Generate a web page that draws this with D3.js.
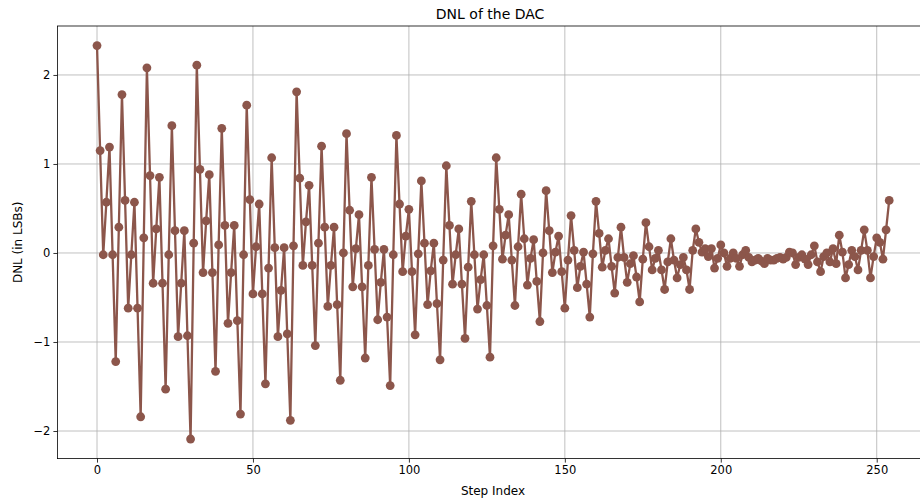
<!DOCTYPE html>
<html>
<head>
<meta charset="utf-8">
<script src="https://cdnjs.cloudflare.com/ajax/libs/d3/7.8.5/d3.min.js"></script>
<style>
body{margin:0;background:#fff;}
svg text{font-family:"DejaVu Sans",sans-serif;fill:#000;}
</style>
</head>
<body>
<svg width="920" height="503"></svg>
<script>
// DNL value for each step index 0..254
var dnl=[
2.33,1.15,-0.02,0.57,1.19,-0.02,-1.22,0.29,1.78,0.59,
-0.62,-0.02,0.57,-0.62,-1.84,0.17,2.08,0.87,-0.34,0.27,
0.85,-0.34,-1.53,-0.02,1.43,0.25,-0.94,-0.34,0.25,-0.93,
-2.09,0.11,2.11,0.94,-0.22,0.36,0.88,-0.22,-1.33,0.09,
1.40,0.31,-0.79,-0.22,0.31,-0.76,-1.81,-0.02,1.66,0.60,
-0.46,0.07,0.55,-0.46,-1.47,-0.17,1.07,0.06,-0.94,-0.42,
0.06,-0.91,-1.88,0.08,1.81,0.84,-0.14,0.35,0.76,-0.14,
-1.04,0.11,1.20,0.29,-0.60,-0.14,0.29,-0.58,-1.43,0.00,
1.34,0.48,-0.38,0.05,0.43,-0.38,-1.18,-0.14,0.85,0.04,
-0.75,-0.33,0.04,-0.72,-1.49,-0.02,1.32,0.55,-0.21,0.19,
0.49,-0.21,-0.92,-0.01,0.81,0.11,-0.58,-0.20,0.11,-0.57,
-1.20,-0.08,0.98,0.31,-0.35,-0.02,0.27,-0.35,-0.96,-0.16,
0.58,-0.02,-0.63,-0.30,-0.02,-0.59,-1.17,0.08,1.07,0.49,
-0.07,0.20,0.43,-0.08,-0.59,0.07,0.66,0.16,-0.36,-0.06,
0.15,-0.32,-0.77,0.00,0.70,0.25,-0.22,0.01,0.19,-0.21,
-0.62,-0.08,0.42,0.03,-0.39,-0.15,0.01,-0.35,-0.72,-0.01,
0.58,0.22,-0.16,0.03,0.16,-0.15,-0.45,-0.05,0.29,-0.05,
-0.33,-0.12,-0.03,-0.27,-0.55,-0.07,0.34,0.07,-0.19,-0.06,
0.03,-0.19,-0.41,-0.10,0.16,-0.08,-0.28,-0.13,-0.05,-0.19,
-0.41,0.03,0.27,0.12,0.01,0.05,-0.04,0.05,-0.17,-0.06,
0.09,0.00,-0.15,-0.06,0.00,-0.06,-0.15,-0.02,0.03,-0.05,
-0.10,-0.08,-0.06,-0.09,-0.12,-0.06,-0.08,-0.08,-0.06,-0.05,
-0.07,-0.05,0.01,0.00,-0.13,-0.05,-0.02,-0.07,-0.13,-0.02,
0.08,-0.10,-0.21,-0.04,0.00,-0.10,0.05,-0.12,0.20,0.01,
-0.28,-0.13,0.03,-0.04,-0.19,0.03,0.26,0.03,-0.28,-0.04,
0.17,0.12,-0.07,0.26,0.59
];
var steps=dnl.map((d,i)=>i);
var xticks=[0,50,100,150,200,250];
var yticks=[-2,-1,0,1,2];

var svg=d3.select("svg");
var mleft=57.4, mright=928.8, mtop=26, mbottom=458.6;
var color="#8c564b";

var scalex=d3.scaleLinear().domain([-12.7,266.7]).range([mleft,mright]);
var scaley=d3.scaleLinear().domain([-2.31,2.55]).range([mbottom,mtop]);

// grid
svg.append("g").selectAll("line").data(xticks).join("line")
  .attr("x1",d=>scalex(d)).attr("x2",d=>scalex(d))
  .attr("y1",mtop).attr("y2",mbottom)
  .attr("stroke","#b0b0b0").attr("stroke-width",0.8);
svg.append("g").selectAll("line").data(yticks).join("line")
  .attr("y1",d=>scaley(d)).attr("y2",d=>scaley(d))
  .attr("x1",mleft).attr("x2",mright)
  .attr("stroke","#b0b0b0").attr("stroke-width",0.8);

var pts=steps.map(i=>[i,dnl[i]]);
svg.append("path")
  .datum(pts)
  .attr("fill","none")
  .attr("stroke",color)
  .attr("stroke-width",2.3)
  .attr("stroke-linejoin","round")
  .attr("d",d3.line().x(d=>scalex(d[0])).y(d=>scaley(d[1])));

svg.append("g").selectAll("circle").data(pts).join("circle")
  .attr("cx",d=>scalex(d[0]))
  .attr("cy",d=>scaley(d[1]))
  .attr("r",4.4)
  .attr("fill",color);

// axes
var fmt=d=>String(d).replace("-","\u2212");
var xaxis=d3.axisBottom(scalex).tickValues(xticks).tickSize(4).tickPadding(3).tickSizeOuter(0).tickFormat(fmt);
var yaxis=d3.axisLeft(scaley).tickValues(yticks).tickSize(4).tickPadding(3).tickSizeOuter(0).tickFormat(fmt);

var gx=svg.append("g").attr("transform","translate(0,"+mbottom+")").call(xaxis);
var gy=svg.append("g").attr("transform","translate("+mleft+",0)").call(yaxis);
[gx,gy].forEach(g=>{
  g.select(".domain").remove();
  g.selectAll("line").attr("stroke","#000").attr("stroke-width",0.8);
  g.selectAll("text").style("font-size","11.5px").style("font-family","DejaVu Sans").attr("fill","#000");
});

// frame
svg.append("rect").attr("x",mleft).attr("y",mtop)
  .attr("width",mright-mleft).attr("height",mbottom-mtop)
  .attr("fill","none").attr("stroke","#000").attr("stroke-width",0.8);

svg.append("text").attr("x",(mleft+mright)/2-3).attr("y",mtop-7)
  .attr("text-anchor","middle").style("font-size","14px").text("DNL of the DAC");
svg.append("text").attr("x",493).attr("y",495)
  .attr("text-anchor","middle").style("font-size","12px").text("Step Index");
svg.append("text").attr("transform","translate(22,"+((mtop+mbottom)/2)+") rotate(-90)")
  .attr("text-anchor","middle").style("font-size","12px").text("DNL (in LSBs)");
</script>
</body>
</html>
